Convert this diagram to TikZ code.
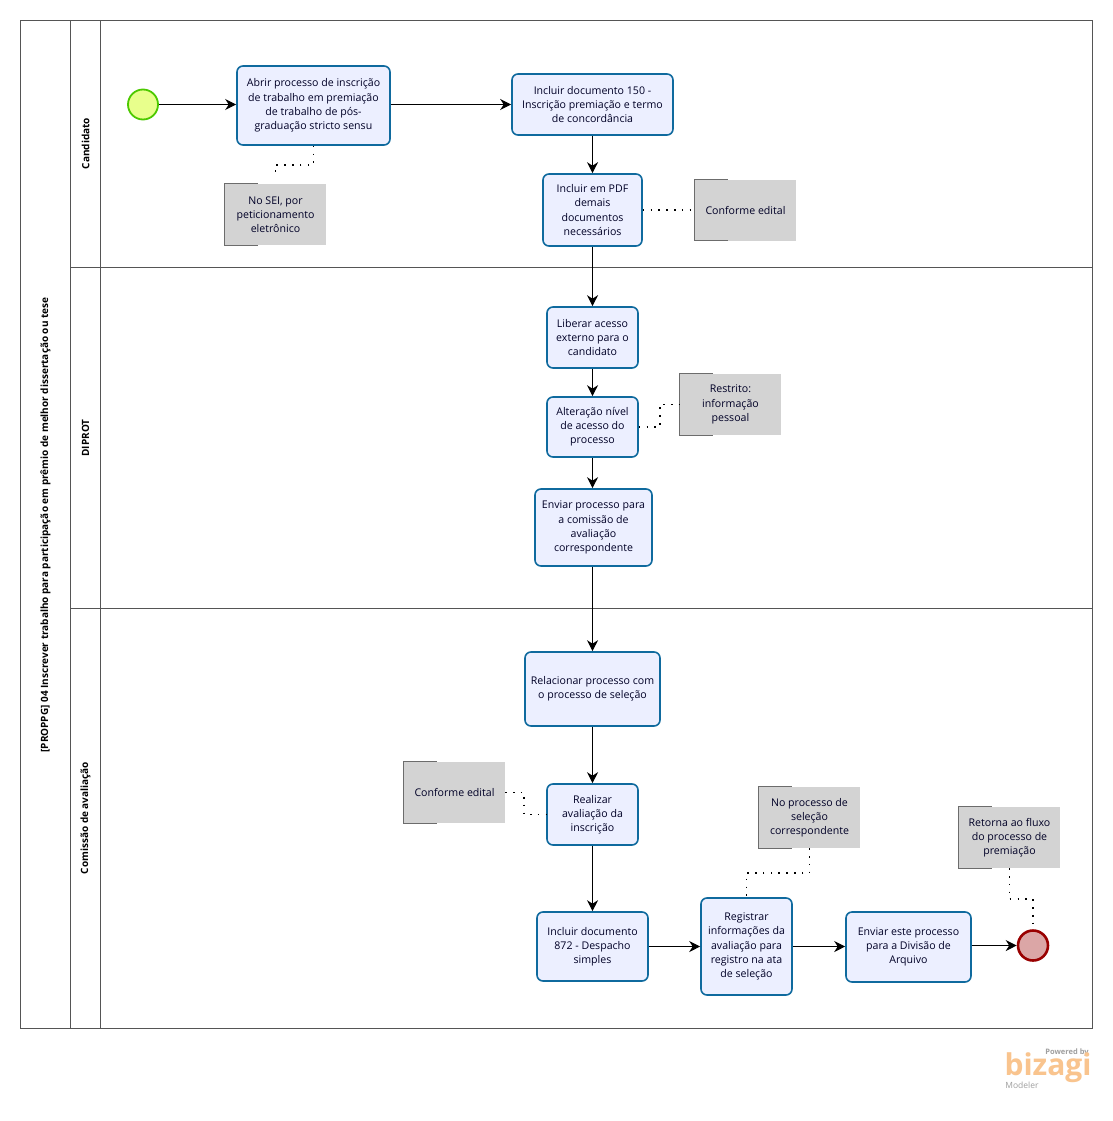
\documentclass[tikz,border=0pt]{standalone}
\usepackage{fontspec}
\setmainfont{Open Sans}
\usetikzlibrary{arrows.meta,calc}
\definecolor{taskfill}{HTML}{ECEFFF}
\definecolor{taskline}{HTML}{0F6A9E}
\definecolor{notefill}{HTML}{D3D3D3}
\definecolor{poolline}{HTML}{555555}
\definecolor{logoorange}{HTML}{F9C48E}
\tikzset{
  px/.style={x=1pt,y=-1pt},
  taskbox/.style={draw=taskline,fill=taskfill,line width=1.6pt,rounded corners=6pt,align=center,
    font=\fontsize{10.6}{14.2}\selectfont,inner sep=0pt,text=black!85!blue},
  notebox/.style={fill=notefill,align=center,font=\fontsize{10.6}{14.2}\selectfont,inner sep=0pt,
    minimum width=101pt,minimum height=61pt,text=black!85!blue},
  bracket/.style={draw=gray!85!black,line width=.9pt},
  flow/.style={draw=black,line width=1pt,-{Stealth[length=11pt,width=11pt,inset=3.5pt]}},
  assoc/.style={draw=black,line width=1.6pt,dash pattern=on 1.6pt off 6.2pt},
  pool/.style={draw=poolline,line width=1pt},
  lanelabel/.style={rotate=90,font=\bfseries\fontsize{10}{12}\selectfont,inner sep=0pt},
}
\newcommand{\taskat}[6]{\node[taskbox,minimum width=#4pt,minimum height=#5pt] (#1) at (#2,#3) {#6};}
\newcommand{\noteat}[4]{\node[notebox] (#1) at (#2,#3) {#4};
  \draw[bracket] ($(#1.north west)+(33,0)$) -- (#1.north west) -- (#1.south west) -- ($(#1.south west)+(33,0)$);}
\begin{document}
\begin{tikzpicture}[px]
\useasboundingbox (0,0) rectangle (1112,1121);
\fill[white] (0,0) rectangle (1112,1121);
% pool
\draw[pool] (20.5,20.5) rectangle (1092.5,1028.5);
\draw[pool] (70.5,20.5) -- (70.5,1028.5);
\draw[pool] (100.5,20.5) -- (100.5,1028.5);
\draw[pool] (70.5,267.5) -- (1092.5,267.5);
\draw[pool] (70.5,608.5) -- (1092.5,608.5);
\node[lanelabel] (title) at (45.5,525) {[PROPPG] 04 Inscrever trabalho para participação em prêmio de melhor dissertação ou tese};
\node[lanelabel] (lane1) at (85.5,143.5) {Candidato};
\node[lanelabel] (lane2) at (85.5,438) {DIPROT};
\node[lanelabel] (lane3) at (85.5,818) {Comissão de avaliação};
% events
\node[circle,draw=black!30!green!70!yellow,fill=green!20!yellow!45,line width=1.8pt,minimum size=30pt,inner sep=0pt] (start) at (143,104.5) {};
\node[circle,draw=red!60!black,fill=red!60!black!35!white,line width=2.6pt,minimum size=30pt,inner sep=0pt] (end) at (1033,945.5) {};
% tasks
\taskat{t1}{313.5}{105.5}{153}{79}{Abrir processo de inscrição\\de trabalho em premiação\\de trabalho de pós-\\graduação stricto sensu}
\taskat{t2}{592.5}{104.5}{161}{61}{Incluir documento 150 -\\Inscrição premiação e termo\\de concordância}
\taskat{t3}{592.5}{210}{99}{72}{Incluir em PDF\\demais\\documentos\\necessários}
\taskat{t4}{592.5}{337.5}{91}{61}{Liberar acesso\\externo para o\\candidato}
\taskat{t5}{592.5}{427}{91}{60}{Alteração nível\\de acesso do\\processo}
\taskat{t6}{593.5}{527.5}{117}{77}{Enviar processo para\\a comissão de\\avaliação\\correspondente}
\taskat{t7}{592.5}{689}{135}{74}{Relacionar processo com\\o processo de seleção}
\taskat{t8}{592.5}{814.5}{91}{61}{Realizar\\avaliação da\\inscrição}
\taskat{t9}{592.5}{946.5}{111}{69}{Incluir documento\\872 - Despacho\\simples}
\taskat{t10}{746.5}{946.5}{91}{97}{Registrar\\informações da\\avaliação para\\registro na ata\\de seleção}
\taskat{t11}{908.5}{947}{125}{70}{Enviar este processo\\para a Divisão de\\Arquivo}
% notes
\noteat{n1}{275.5}{214.5}{No SEI, por\\peticionamento\\eletrônico}
\noteat{n2}{745.5}{210}{Conforme edital}
\noteat{n3}{730.5}{404.5}{Restrito:\\informação\\pessoal}
\noteat{n4}{454.5}{792.5}{Conforme edital}
\noteat{n5}{809.5}{817.5}{No processo de\\seleção\\correspondente}
\noteat{n6}{1009.5}{837.5}{Retorna ao fluxo\\do processo de\\premiação}
% flows
\draw[flow] (start) -- (t1.west |- start);
\draw[flow] (t1.east |- t2) -- (t2.west);
\draw[flow] (t2) -- (t3);
\draw[flow] (t3) -- (t4);
\draw[flow] (t4) -- (t5);
\draw[flow] (t5.south) -- (t5.south |- t6.north);
\draw[flow] (t6.south -| t7) -- (t7.north);
\draw[flow] (t7) -- (t8);
\draw[flow] (t8) -- (t9);
\draw[flow] (t9.east) -- (t10.west |- t9);
\draw[flow] (t10.east) -- (t11.west |- t10);
\draw[flow] (t11.east |- end) -- (end);
% associations
\draw[assoc] (t1.south) -- ++(0,19) -| ($(n1.north)+(0,-7)$);
\draw[assoc] (t3.east |- n2) -- ($(n2.west)+(-2,0)$);
\draw[assoc] (t5.east) -- ++(21,0) |- (n3.west);
\draw[assoc] (n4.east) -- ++(19,0) |- (t8.west);
\draw[assoc] (n5.south) -- ++(0,25) -| (t10.north);
\draw[assoc] (n6.south) -- ++(0,31) -| (end.north);
% logo
\node[font=\bfseries\fontsize{7.5}{9}\selectfont,text=gray!75,inner sep=0pt] (powered) at (1067,1053) {Powered by};
\node[font=\bfseries\fontsize{30}{30}\selectfont,text=logoorange,inner sep=0pt] (logo) at (1048,1068) {bizagi};
\node[font=\fontsize{8.5}{10}\selectfont,text=gray!75,inner sep=0pt] (modeler) at (1022,1085) {Modeler};
\end{tikzpicture}
\end{document}
